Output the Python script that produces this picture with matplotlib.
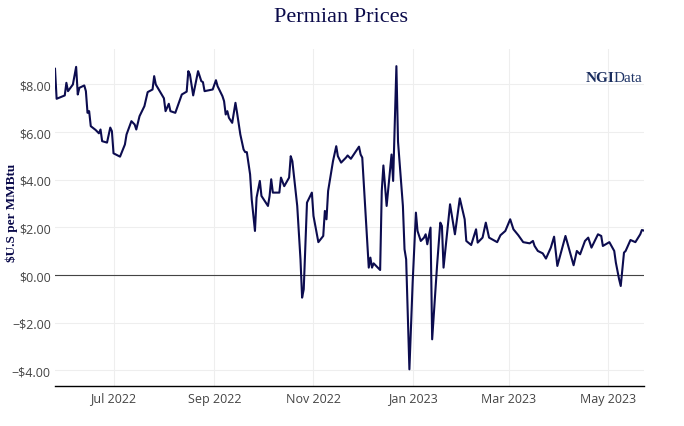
import matplotlib
matplotlib.use("Agg")
import matplotlib.pyplot as plt
import matplotlib.dates as mdates
import pandas as pd

# данные
dates = [
    "2022-05-26", "2022-05-27", "2022-06-01", "2022-06-02", "2022-06-03", "2022-06-06",
    "2022-06-08", "2022-06-09", "2022-06-10", "2022-06-13", "2022-06-14", "2022-06-15",
    "2022-06-16", "2022-06-17", "2022-06-20", "2022-06-22", "2022-06-23", "2022-06-24",
    "2022-06-27", "2022-06-29", "2022-06-30", "2022-07-01", "2022-07-05", "2022-07-08",
    "2022-07-09", "2022-07-12", "2022-07-14", "2022-07-15", "2022-07-17", "2022-07-19",
    "2022-07-20", "2022-07-22", "2022-07-25", "2022-07-26", "2022-07-27", "2022-07-30",
    "2022-08-01", "2022-08-02", "2022-08-04", "2022-08-05", "2022-08-08", "2022-08-12",
    "2022-08-15", "2022-08-16", "2022-08-17", "2022-08-19", "2022-08-22", "2022-08-24",
    "2022-08-25", "2022-08-26", "2022-08-31", "2022-09-02", "2022-09-03", "2022-09-06",
    "2022-09-07", "2022-09-08", "2022-09-09", "2022-09-10", "2022-09-12", "2022-09-14",
    "2022-09-15", "2022-09-17", "2022-09-19", "2022-09-20", "2022-09-21", "2022-09-23",
    "2022-09-24", "2022-09-26", "2022-09-27", "2022-09-29", "2022-09-30", "2022-10-04",
    "2022-10-05", "2022-10-06", "2022-10-07", "2022-10-11", "2022-10-12", "2022-10-14",
    "2022-10-17", "2022-10-18", "2022-10-19", "2022-10-22", "2022-10-24", "2022-10-25",
    "2022-10-26", "2022-10-28", "2022-10-31", "2022-11-01", "2022-11-04", "2022-11-07",
    "2022-11-08", "2022-11-09", "2022-11-10", "2022-11-13", "2022-11-15", "2022-11-16",
    "2022-11-18", "2022-11-21", "2022-11-22", "2022-11-24", "2022-11-29", "2022-11-30",
    "2022-12-01", "2022-12-05", "2022-12-06", "2022-12-07", "2022-12-08", "2022-12-12",
    "2022-12-13", "2022-12-14", "2022-12-16", "2022-12-19", "2022-12-20", "2022-12-22",
    "2022-12-23", "2022-12-26", "2022-12-27", "2022-12-28", "2022-12-30", "2023-01-01",
    "2023-01-03", "2023-01-04", "2023-01-06", "2023-01-08", "2023-01-09", "2023-01-10",
    "2023-01-12", "2023-01-13", "2023-01-16", "2023-01-18", "2023-01-19", "2023-01-20",
    "2023-01-24", "2023-01-27", "2023-01-30", "2023-02-02", "2023-02-03", "2023-02-06",
    "2023-02-09", "2023-02-10", "2023-02-13", "2023-02-15", "2023-02-17", "2023-02-22",
    "2023-02-24", "2023-02-27", "2023-03-02", "2023-03-04", "2023-03-07", "2023-03-10",
    "2023-03-14", "2023-03-16", "2023-03-17", "2023-03-19", "2023-03-22", "2023-03-24",
    "2023-03-27", "2023-03-29", "2023-03-31", "2023-04-05", "2023-04-10", "2023-04-12",
    "2023-04-14", "2023-04-17", "2023-04-19", "2023-04-21", "2023-04-25", "2023-04-27",
    "2023-04-28", "2023-05-02", "2023-05-05", "2023-05-06", "2023-05-08", "2023-05-09",
    "2023-05-11", "2023-05-12", "2023-05-15", "2023-05-18", "2023-05-21", "2023-05-22",
    "2023-05-23",
]
prices = [
    8.66, 7.40, 7.54, 8.07, 7.72, 8.00,
    8.74, 7.58, 7.86, 7.96, 7.72, 6.81,
    6.88, 6.25, 6.09, 5.95, 6.11, 5.62,
    5.56, 6.19, 6.04, 5.11, 4.97, 5.48,
    5.90, 6.46, 6.32, 6.11, 6.67, 6.95,
    7.09, 7.68, 7.79, 8.35, 8.00, 7.65,
    7.42, 6.88, 7.19, 6.88, 6.81, 7.58,
    7.70, 8.56, 8.42, 7.54, 8.56, 8.14,
    8.10, 7.72, 7.79, 8.18, 7.93, 7.51,
    7.30, 6.74, 6.88, 6.60, 6.39, 7.23,
    6.81, 5.90, 5.27, 5.16, 5.16, 4.23,
    3.18, 1.85, 3.25, 3.95, 3.32, 2.90,
    3.32, 4.02, 3.46, 3.46, 4.09, 3.73,
    4.09, 4.99, 4.78, 2.90, 0.66, -0.95,
    -0.60, 3.04, 3.46, 2.48, 1.38, 1.64,
    2.69, 2.34, 3.53, 4.78, 5.41, 4.99,
    4.72, 4.93, 5.02, 4.88, 5.39, 5.06,
    4.93, 0.31, 0.73, 0.31, 0.49, 0.21,
    3.53, 4.60, 2.90, 5.06, 3.95, 8.77,
    5.60, 2.90, 1.08, 0.66, -3.96, -0.32,
    2.62, 1.85, 1.43, 1.57, 1.71, 1.29,
    1.99, -2.70, 0.38, 2.20, 2.06, 0.31,
    2.97, 1.71, 3.22, 2.34, 1.43, 1.26,
    1.92, 1.36, 1.57, 2.20, 1.57, 1.38,
    1.67, 1.85, 2.34, 1.92, 1.67, 1.38,
    1.33, 1.43, 1.22, 1.01, 0.91, 0.69,
    1.15, 1.61, 0.38, 1.64, 0.41, 1.01,
    0.87, 1.43, 1.57, 1.15, 1.71, 1.64,
    1.22, 1.38, 1.01, 0.52, -0.18, -0.46,
    0.94, 1.01, 1.47, 1.38, 1.71, 1.89,
    1.87,
]
y_ticks = [-4, -2, 0, 2, 4, 6, 8]

x = pd.to_datetime(dates)

fig = plt.figure(figsize=(6.84, 4.27), dpi=100)
ax = fig.add_axes([55 / 684, 40 / 427, 588.5 / 684, 337 / 427])

ax.plot(x, prices, color='#0c0c4f', lw=1.5, solid_joinstyle='round', zorder=3)
ax.axhline(0, color='#444444', lw=0.8, zorder=2)

ax.set_xlim(x[0], x[-1])
ax.set_ylim(-4.66, 9.49)

ax.xaxis.set_major_locator(mdates.MonthLocator(bymonth=[1, 3, 5, 7, 9, 11]))
ax.xaxis.set_major_formatter(mdates.DateFormatter('%b %Y'))
ax.set_yticks(y_ticks)
ax.set_yticklabels([('\u2212$%.2f' % abs(v)) if v < 0 else ('$%.2f' % v) for v in y_ticks])

ax.grid(True, color='#eeeeee', lw=0.8, zorder=0)
ax.set_axisbelow(True)
for s in ['top', 'right', 'left']:
    ax.spines[s].set_visible(False)
ax.spines['bottom'].set_color('black')
ax.spines['bottom'].set_linewidth(1.0)

ax.tick_params(axis='both', length=0, labelcolor='#444444', labelsize=9)
ax.tick_params(axis='x', pad=4)
ax.tick_params(axis='y', pad=3)
for lab in ax.get_xticklabels() + ax.get_yticklabels():
    lab.set_family('Open Sans')

# заголовок и подпись оси
fig.text(341.5 / 684, 1 - 18 / 427, 'Permian Prices', ha='center', va='center',
         family='Liberation Serif', fontsize=16, color='#0a0a4a')
fig.text(12 / 684, 1 - 212.5 / 427, '$U.S per MMBtu', rotation=90, ha='center', va='center',
         family='Liberation Serif', fontweight='bold', fontsize=9.5, color='#0a0a4a')

# логотип NGIData
t_data = fig.text(642 / 684, 1 - 82.5 / 427, 'Data', ha='right', va='baseline',
                  family='Liberation Serif', fontsize=11, color='#1f3466')
fig.canvas.draw()
bb = t_data.get_window_extent()
fig.text((bb.x0 + 1) / fig.bbox.width, 1 - 82.5 / 427, 'NGI', ha='right', va='baseline',
         family='Liberation Serif', fontweight='bold', fontsize=11, color='#1a2d5e')

fig.savefig('out.png', dpi=100)
